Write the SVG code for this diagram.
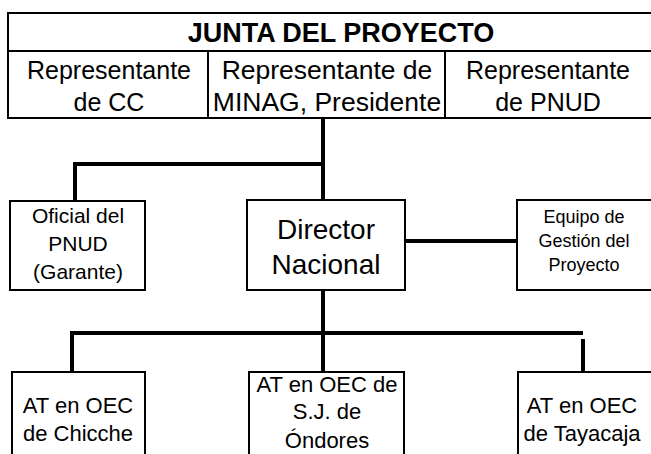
<svg xmlns="http://www.w3.org/2000/svg" width="651" height="454" viewBox="0 0 651 454">
<style>
.box{fill:#fff;stroke:#000;stroke-width:2}
.line{fill:none;stroke:#000;stroke-width:4}
.div{stroke:#000;stroke-width:2}
text{font-family:"Liberation Sans",Arial,sans-serif;fill:#000;text-anchor:middle}
.t{font-size:27px;font-weight:bold}
.r{font-size:25px}
.r2{font-size:26.5px}
.m{font-size:21px}
.d{font-size:28px}
.s{font-size:18px}
.b{font-size:22px}
</style>
<rect width="651" height="454" fill="#fff"/>
<g id="connectors">
<path class="line" d="M323 118 V200"/>
<path class="line" d="M323 164 H75 V201"/>
<path class="line" d="M405 241 H517"/>
<path class="line" d="M323 290 V372"/>
<path class="line" d="M72 372 V333 H583"/>
<path class="line" d="M583 339 V372"/>
</g>
<g id="junta">
<rect class="box" x="8" y="13" width="650" height="105"/>
<line class="div" x1="8" y1="51" x2="651" y2="51"/>
<line class="div" x1="208" y1="51" x2="208" y2="118"/>
<line class="div" x1="445" y1="51" x2="445" y2="118"/>
<text class="t" x="341" y="42">JUNTA DEL PROYECTO</text>
</g>
<g id="rep-cc">
<text class="r" x="109" y="79">Representante</text>
<text class="r" x="109" y="111">de CC</text>
</g>
<g id="rep-minag">
<text class="r2" x="327" y="79">Representante de</text>
<text class="r2" x="327" y="111">MINAG, Presidente</text>
</g>
<g id="rep-pnud">
<text class="r" x="548" y="79">Representante</text>
<text class="r" x="548" y="111">de PNUD</text>
</g>
<g id="oficial">
<rect class="box" x="10" y="201" width="135" height="89"/>
<text class="m" x="78" y="223">Oficial del</text>
<text class="m" x="78" y="251">PNUD</text>
<text class="m" x="78" y="279">(Garante)</text>
</g>
<g id="director">
<rect class="box" x="247" y="200" width="158" height="90"/>
<text class="d" x="326" y="239">Director</text>
<text class="d" x="326" y="274">Nacional</text>
</g>
<g id="equipo">
<rect class="box" x="517" y="200" width="140" height="90"/>
<text class="s" x="584" y="223">Equipo de</text>
<text class="s" x="584" y="247">Gestión del</text>
<text class="s" x="584" y="271">Proyecto</text>
</g>
<g id="chicche">
<rect class="box" x="12" y="372" width="133" height="90"/>
<text class="b" x="78" y="413">AT en OEC</text>
<text class="b" x="78" y="441">de Chicche</text>
</g>
<g id="ondores">
<rect class="box" x="249" y="372" width="155" height="90"/>
<text class="b" x="327" y="392">AT en OEC de</text>
<text class="b" x="327" y="419">S.J. de</text>
<text class="b" x="327" y="448">Óndores</text>
</g>
<g id="tayacaja">
<rect class="box" x="518" y="372" width="140" height="90"/>
<text class="b" x="582" y="413">AT en OEC</text>
<text class="b" x="582" y="441">de Tayacaja</text>
</g>
</svg>
